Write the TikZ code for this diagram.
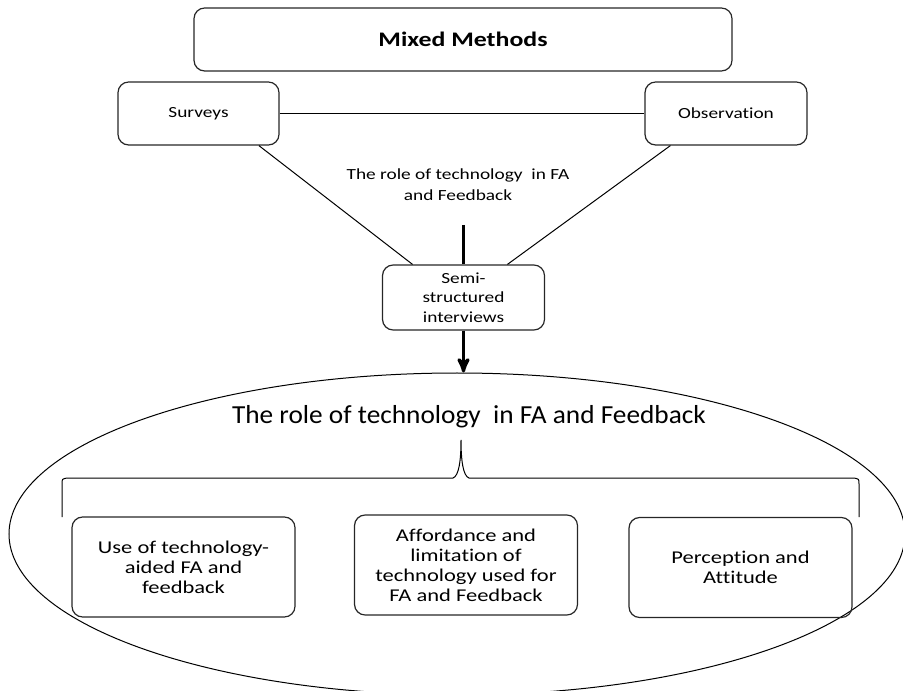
\documentclass[tikz,border=0pt]{standalone}
\usepackage{fontspec}
\setmainfont{Carlito}[FakeStretch=1.25,RawFeature={-liga;-clig;-dlig;-calt}]
\newfontfamily\titlefont{Carlito}[FakeStretch=1.05,RawFeature={-liga;-clig;-dlig;-calt}]
\usepackage{tikz}
\usetikzlibrary{arrows,shapes.geometric}
\tikzset{
  bx/.style = {draw=black!85, rounded corners=8pt, align=center,
    inner sep=2pt, line width=0.9pt},% rounded box
  sm/.style = {bx, font=\fontsize{11.6}{14.6}\selectfont},% upper boxes
  lg/.style = {bx, font=\fontsize{13.5}{15}\selectfont,
    minimum width=167.25pt, minimum height=75pt}% boxes in the ellipse
}

\begin{document}
\begin{tikzpicture}[x=0.75pt,y=-0.75pt,->,>=stealth',line width=0.75pt]
\useasboundingbox (0,0) rectangle (903,691);
% top part
\node [bx, font=\fontsize{15.5}{18}\selectfont\bfseries,
  minimum width=403.5pt, minimum height=47.25pt] (mm) at (463,39.5) {Mixed Methods};
\node [sm, minimum width=120.75pt, minimum height=47.25pt] (sv) at (198.5,113.5) {Surveys};
\node [sm, minimum width=121.5pt, minimum height=47.25pt] (ob) at (726,113.5) {Observation};
\node [sm, minimum width=121.5pt, minimum height=48.75pt] (si) at (463.5,297.5)
  {Semi-\\structured\\interviews};
\node [font=\fontsize{11.6}{15.5}\selectfont, align=center] (rl) at (458,185)
  {The role of technology~ in FA\\and Feedback};
\coordinate (ar) at (463.5,225);
\draw [-] (sv.east) -- (ob.west);
\draw [-] (sv.-28) -- (si.147.5);
\draw [-] (ob.210) -- (si.37);
\draw [-, line width=2.5pt] (ar) -- (si.north);
% lower part
\node [draw, ellipse, minimum width=672pt, minimum height=241.5pt] (el) at (457,534) {};
\draw [line width=2.5pt] (si.south) -- (si.south |- el.north);
\node [font=\titlefont\fontsize{19.5}{22}\selectfont, anchor=base] (tt) at (469,423)
  {The role of technology~ in FA and Feedback};
\draw [-] (62,517) -- (62,484) .. controls (62,479) .. (67,478) -- (453,478)
  .. controls (459,476) and (461,460) .. (461,440)
  .. controls (461,460) and (463,476) .. (469,478) -- (854,478)
  .. controls (859,479) .. (859,484) -- (859,517);
\node [lg] (b1) at (183.5,567) {Use of technology-\\aided FA and\\feedback};
\node [lg] (b2) at (466,565) {Affordance and\\limitation of\\technology used for\\FA and Feedback};
\node [lg] (b3) at (740.5,567.5) {Perception and\\Attitude};
\end{tikzpicture}
\end{document}
